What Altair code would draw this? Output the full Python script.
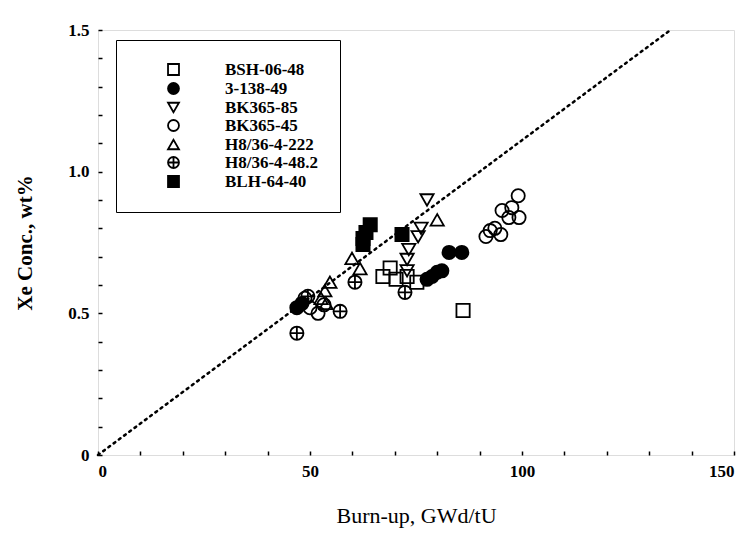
import altair as alt
import pandas as pd

series = ["BSH-06-48", "3-138-49", "BK365-85", "BK365-45", "H8/36-4-222", "H8/36-4-48.2", "BLH-64-40"]

bsh_x = [68.9, 67.2, 70.3, 72.9, 75.2, 86.1]
bsh_y = [0.66, 0.63, 0.62, 0.63, 0.61, 0.51]

c138_x = [46.9, 48.1, 77.6, 78.8, 80.0, 81.1, 82.8, 85.8]
c138_y = [0.52, 0.535, 0.62, 0.63, 0.645, 0.65, 0.715, 0.715]

bk85_x = [77.6, 76.2, 75.5, 73.3, 72.9, 72.9]
bk85_y = [0.90, 0.80, 0.77, 0.725, 0.69, 0.65]

bk45_x = [99.1, 95.3, 97.6, 96.9, 99.3, 91.5, 92.5, 93.6, 95.0, 48.8, 50.0, 51.9, 53.3]
bk45_y = [0.915, 0.863, 0.873, 0.838, 0.838, 0.771, 0.792, 0.80, 0.778, 0.553, 0.52, 0.50, 0.53]

h222_x = [80.0, 59.9, 61.8, 54.7, 53.5, 52.6, 53.8]
h222_y = [0.83, 0.694, 0.658, 0.61, 0.58, 0.553, 0.535]

h482_x = [46.9, 57.1, 60.6, 72.4, 49.5]
h482_y = [0.43, 0.507, 0.61, 0.574, 0.56]

blh_x = [64.2, 63.2, 62.5, 62.5, 71.7]
blh_y = [0.813, 0.785, 0.764, 0.743, 0.778]

line_x = [0, 135]
line_y = [0, 1.5]

x_labels = [0, 50, 100, 150]
y_labels = [0, 0.5, 1.0, 1.5]
x_minor = [0, 10, 20, 30, 40, 50, 60, 70, 80, 90, 100, 110, 120, 130, 140, 150]
y_minor = [0, 0.1, 0.2, 0.3, 0.4, 0.5, 0.6, 0.7, 0.8, 0.9, 1.0, 1.1, 1.2, 1.3, 1.4, 1.5]

xs = [bsh_x, c138_x, bk85_x, bk45_x, h222_x, h482_x, blh_x]
ys = [bsh_y, c138_y, bk85_y, bk45_y, h222_y, h482_y, blh_y]
rows = []
for name, sx, sy in zip(series, xs, ys):
    for a, b in zip(sx, sy):
        rows.append({"series": name, "x": a, "y": b})
df = pd.DataFrame(rows)
ldf = pd.DataFrame({"x": line_x, "y": line_y})

circle_plus = "M-1,0A1,1,0,1,1,1,0A1,1,0,1,1,-1,0Z M-1,0L1,0 M0,-1L0,1"
shapes = ["square", "circle", "triangle-down", "circle", "triangle-up", circle_plus, "square"]
fills = ["transparent", "black", "transparent", "transparent", "transparent", "transparent", "black"]
strokes = ["black"] * 7

FONT = "Liberation Serif"
W, H = 636, 425

xscale = alt.Scale(domain=[0, 150], nice=False, zero=True)
yscale = alt.Scale(domain=[0, 1.5], nice=False, zero=True)

xaxis = alt.Axis(
    values=x_labels, format="d", labelOverlap=False,
    grid=False, ticks=False, domain=False,
    labelFont=FONT, labelFontSize=17, labelFontWeight="bold", labelColor="black",
    labelPadding=8, title="Burn-up, GWd/tU", titleFont=FONT, titleFontSize=22,
    titleFontWeight="normal", titleColor="black", titlePadding=26,
)
yaxis = alt.Axis(
    values=y_labels,
    labelExpr="datum.value == 0 ? '0' : format(datum.value, '.1f')",
    labelOverlap=False, labelBound=False, labelFlush=False,
    grid=False, ticks=False, domain=False,
    labelFont=FONT, labelFontSize=17, labelFontWeight="bold", labelColor="black",
    labelPadding=9, title="Xe Conc., wt%", titleFont=FONT, titleFontSize=21,
    titleFontWeight="bold", titleColor="black", titlePadding=32,
)
xaxis_in = alt.Axis(
    orient="top", offset=-H, values=x_minor, labels=False, domain=False, grid=False,
    tickSize=4, tickWidth=1.5, tickColor="black", title=None,
)
yaxis_in = alt.Axis(
    orient="right", offset=-W, values=y_minor, labels=False, domain=False, grid=False,
    tickSize=4, tickWidth=1.5, tickColor="black", title=None,
)

line = alt.Chart(ldf).mark_line(
    color="black", strokeDash=[2, 4.5], strokeWidth=2.5, strokeCap="round"
).encode(
    x=alt.X("x:Q", scale=xscale, axis=xaxis),
    y=alt.Y("y:Q", scale=yscale, axis=yaxis),
)

legend_cfg = dict(
    title=None, orient="none", legendX=18, legendY=10,
    strokeColor="black", padding=21, fillColor="white",
    symbolSize=120, symbolStrokeWidth=1.8,
    labelFont=FONT, labelFontSize=17, labelFontWeight="bold",
    labelColor="black", labelOffset=43, rowPadding=0,
    symbolOffset=28, labelLimit=300,
)

points = alt.Chart(df).mark_point(
    filled=True, opacity=1, strokeWidth=1.8, size=175
).encode(
    x=alt.X("x:Q", scale=xscale, axis=xaxis_in),
    y=alt.Y("y:Q", scale=yscale, axis=yaxis_in),
    shape=alt.Shape("series:N", scale=alt.Scale(domain=series, range=shapes), sort=series,
                    legend=alt.Legend(**legend_cfg)),
    fill=alt.Fill("series:N", scale=alt.Scale(domain=series, range=fills), sort=series,
                  legend=alt.Legend(**legend_cfg)),
    stroke=alt.Stroke("series:N", scale=alt.Scale(domain=series, range=strokes), sort=series,
                      legend=alt.Legend(**legend_cfg)),
)

chart = alt.layer(line, points).resolve_axis(
    x="independent", y="independent"
).properties(
    width=W, height=H,
    autosize=alt.AutoSizeParams(type="none"),
    padding={"left": 98, "top": 30, "right": 6, "bottom": 85},
).configure_view(stroke="black", strokeWidth=2).configure(background="white")

chart.save("out.html", embed_options={"renderer": "svg", "actions": False})
